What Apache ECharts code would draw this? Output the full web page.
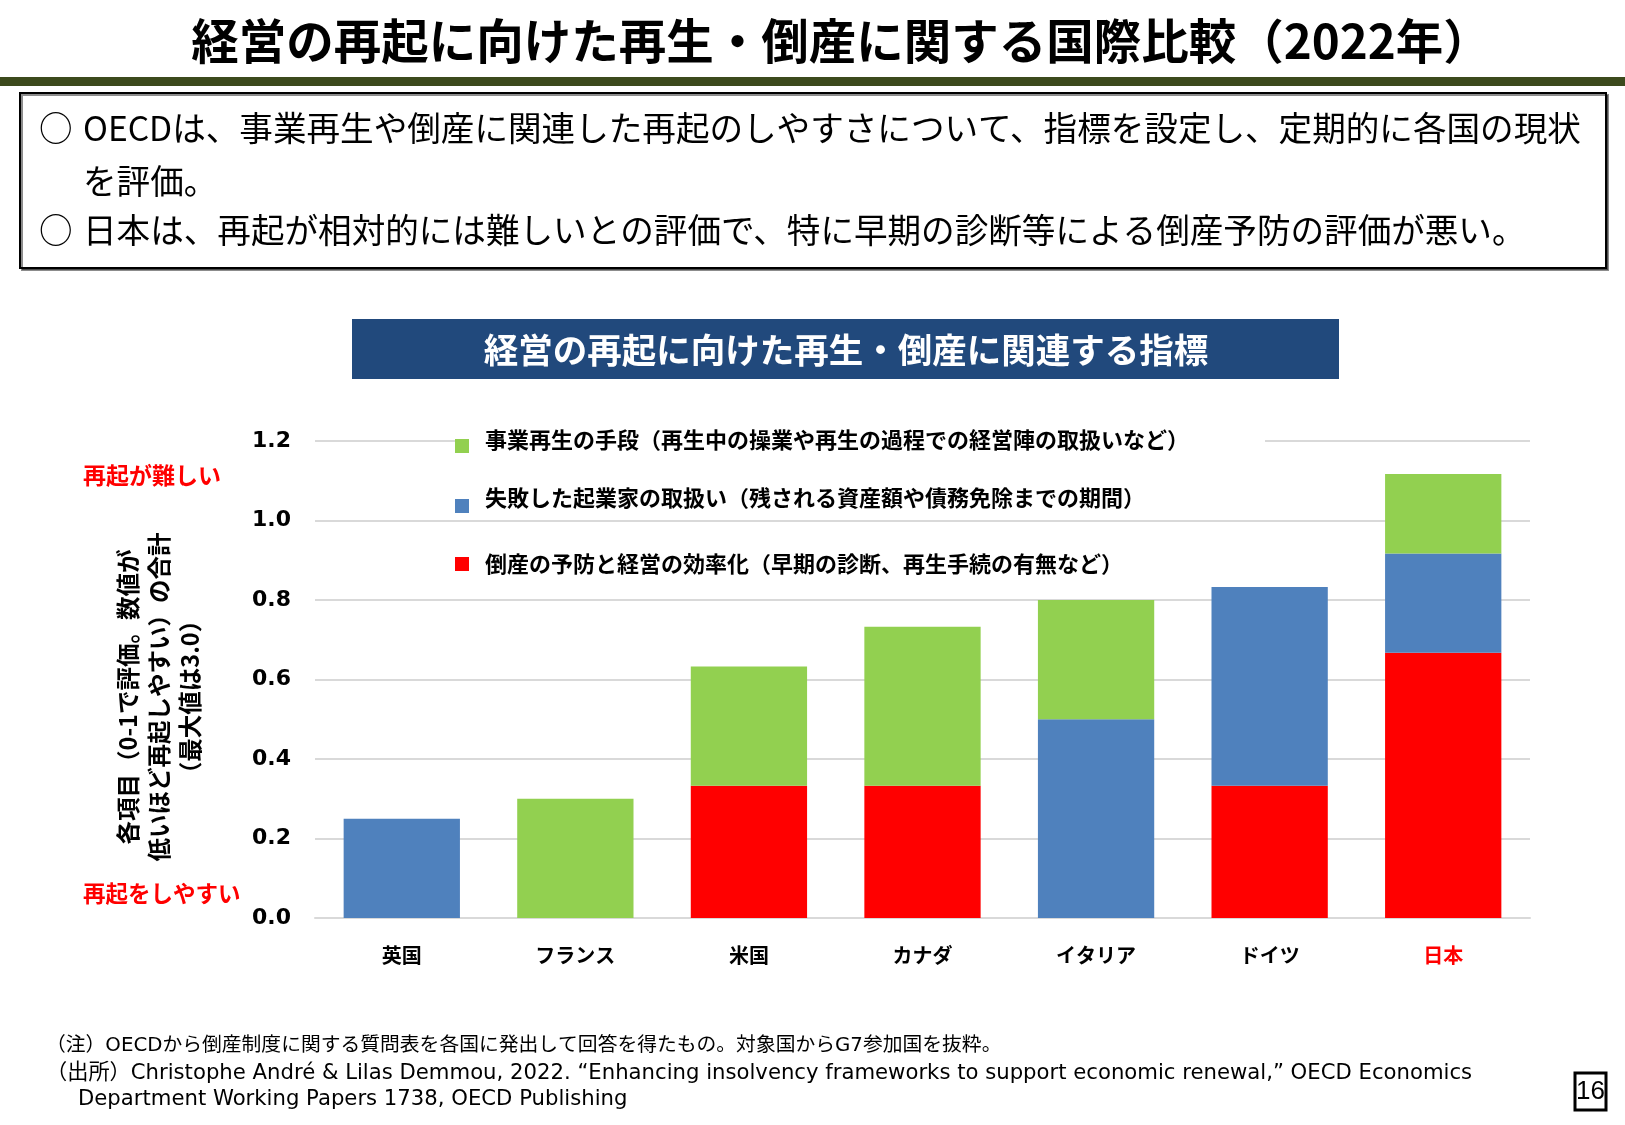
<!DOCTYPE html>
<html lang="ja">
<head>
<meta charset="utf-8">
<title>経営の再起に向けた再生・倒産に関する国際比較（2022年）</title>
<script src="https://cdn.jsdelivr.net/npm/echarts@6/dist/echarts.min.js"></script>
<style>
  html, body { margin: 0; padding: 0; background: #fff; }
  #main { width: 1625px; height: 1125px; }
</style>
</head>
<body>
<div id="main"></div>
<script>
// ============ データ ============
const countries = ['英国', 'フランス', '米国', 'カナダ', 'イタリア', 'ドイツ', '日本']
const seriesNames = [
  '事業再生の手段（再生中の操業や再生の過程での経営陣の取扱いなど）',
  '失敗した起業家の取扱い（残される資産額や債務免除までの期間）',
  '倒産の予防と経営の効率化（早期の診断、再生手続の有無など）'
]
// 各項目（0-1で評価）
const restructuringTools = [0, 0.3, 0.3, 0.4, 0.3, 0, 0.2]
const failedEntrepreneurs = [0.25, 0, 0, 0, 0.5, 0.5, 0.25]
const preventionStreamlining = [0, 0, 0.333, 0.333, 0, 0.333, 0.667]
const yTicks = { min: 0, max: 1.2, interval: 0.2 }

// ============ 色・フォント ============
const COLORS = {
  green: '#92d050',
  blue: '#4f81bd',
  red: '#ff0000',
  grid: '#d9d9d9',
  navy: '#21497c',
  olive: '#3c4a1d'
}
const JP = '"Noto Sans CJK JP", "Noto Sans", sans-serif'
const NOTE = '"DejaVu Sans", "Noto Sans CJK JP", sans-serif'

const chart = echarts.init(document.getElementById('main'))

/**
 * 凡例1項目分（元図は項目ごとに文字と四角の縦位置が少しずれている）
 * @param {string} name - 系列名
 * @param {number} top - 上端
 * @param {number} boxH - アイコン枠の高さ（四角は下端に寄せる）
 * @param {boolean} withBg - 白背景で目盛線を隠すか
 */
function legendItem(name, top, boxH, withBg) {
  const pad = boxH - 14
  return {
    data: [name],
    left: 455,
    top: top,
    orient: 'vertical',
    selectedMode: false,
    itemWidth: 14,
    itemHeight: boxH,
    icon: pad > 0 ? `path://M0,0L14,0L14,0ZM0,${pad}L14,${pad}L14,${boxH}L0,${boxH}Z` : 'rect',
    backgroundColor: withBg ? '#ffffff' : 'transparent',
    padding: [4, 76, 4, 0],
    textStyle: {
      fontFamily: JP,
      fontWeight: 'bold',
      fontSize: 22,
      color: '#000',
      padding: [0, 0, 0, 11]
    }
  }
}

const option = {
  animation: false,
  textStyle: { fontFamily: JP },
  grid: { left: 315, right: 95, top: 441, bottom: 207 },
  legend: [
    legendItem(seriesNames[0], 422, 27, true),
    legendItem(seriesNames[1], 478, 31, false),
    legendItem(seriesNames[2], 549, 14, false)
  ],
  xAxis: {
    type: 'category',
    data: countries.map(c => c === '日本' ? { value: c, textStyle: { color: COLORS.red } } : c),
    axisTick: { show: false },
    axisLine: { lineStyle: { color: COLORS.grid, width: 2 } },
    axisLabel: {
      color: '#000',
      fontFamily: JP,
      fontWeight: 'bold',
      fontSize: 20,
      margin: 27
    }
  },
  yAxis: {
    type: 'value',
    min: yTicks.min,
    max: yTicks.max,
    interval: yTicks.interval,
    axisLine: { show: false },
    axisTick: { show: false },
    splitLine: { lineStyle: { color: COLORS.grid, width: 2 } },
    axisLabel: {
      color: '#000',
      fontFamily: '"DejaVu Sans", Verdana, sans-serif',
      fontWeight: 'bold',
      fontSize: 22,
      margin: 24,
      formatter: v => v.toFixed(1)
    }
  },
  series: [
    {
      name: seriesNames[2],
      type: 'bar',
      stack: 'total',
      barCategoryGap: '33%',
      itemStyle: { color: COLORS.red },
      data: preventionStreamlining
    },
    {
      name: seriesNames[1],
      type: 'bar',
      stack: 'total',
      itemStyle: { color: COLORS.blue },
      data: failedEntrepreneurs
    },
    {
      name: seriesNames[0],
      type: 'bar',
      stack: 'total',
      itemStyle: { color: COLORS.green },
      data: restructuringTools
    }
  ],
  graphic: [
    // タイトル
    {
      type: 'text', x: 841, y: 41,
      style: {
        text: '経営の再起に向けた再生・倒産に関する国際比較（2022年）',
        font: 'bold 47.5px ' + JP, fill: '#000', align: 'center', verticalAlign: 'middle'
      }
    },
    { type: 'rect', shape: { x: 0, y: 77, width: 1625, height: 9 }, style: { fill: COLORS.olive } },
    // 説明ボックス
    {
      type: 'rect', shape: { x: 20, y: 93, width: 1586, height: 175 },
      style: { fill: '#fff', stroke: '#000', lineWidth: 2, shadowColor: 'rgba(0,0,0,0.45)', shadowOffsetX: 2, shadowOffsetY: 2 }
    },
    { type: 'text', x: 39, y: 128, style: { text: '○', font: '33.6px ' + JP, fill: '#000', verticalAlign: 'middle' } },
    { type: 'text', x: 83, y: 128, style: { text: 'OECDは、事業再生や倒産に関連した再起のしやすさについて、指標を設定し、定期的に各国の現状', font: '33.6px ' + JP, fill: '#000', verticalAlign: 'middle' } },
    { type: 'text', x: 83, y: 181, style: { text: 'を評価。', font: '33.6px ' + JP, fill: '#000', verticalAlign: 'middle' } },
    { type: 'text', x: 39, y: 230, style: { text: '○', font: '33.6px ' + JP, fill: '#000', verticalAlign: 'middle' } },
    { type: 'text', x: 83, y: 230, style: { text: '日本は、再起が相対的には難しいとの評価で、特に早期の診断等による倒産予防の評価が悪い。', font: '33.6px ' + JP, fill: '#000', verticalAlign: 'middle' } },
    // グラフタイトル
    { type: 'rect', shape: { x: 352, y: 319, width: 987, height: 60 }, style: { fill: COLORS.navy } },
    {
      type: 'text', x: 846, y: 350,
      style: { text: '経営の再起に向けた再生・倒産に関連する指標', font: 'bold 34.5px ' + JP, fill: '#fff', align: 'center', verticalAlign: 'middle' }
    },
    // 縦軸の説明
    {
      type: 'text', x: 159, y: 697, rotation: Math.PI / 2,
      style: {
        text: '各項目（0-1で評価。数値が\n低いほど再起しやすい）の合計\n（最大値は3.0）',
        font: 'bold 23.5px ' + JP, lineHeight: 31, fill: '#000', align: 'center', verticalAlign: 'middle'
      }
    },
    { type: 'text', x: 83, y: 475, style: { text: '再起が難しい', font: 'bold 23px ' + JP, fill: COLORS.red, verticalAlign: 'middle' } },
    { type: 'text', x: 83, y: 893, style: { text: '再起をしやすい', font: 'bold 22.5px ' + JP, fill: COLORS.red, verticalAlign: 'middle' } },
    // 注・出所
    { type: 'text', x: 46, y: 1046, style: { text: '（注）OECDから倒産制度に関する質問表を各国に発出して回答を得たもの。対象国からG7参加国を抜粋。', font: '19.8px ' + NOTE, fill: '#000', verticalAlign: 'middle' } },
    { type: 'text', x: 46, y: 1073, style: { text: '（出所）Christophe André & Lilas Demmou, 2022. “Enhancing insolvency frameworks to support economic renewal,” OECD Economics', font: '21.2px ' + NOTE, fill: '#000', verticalAlign: 'middle' } },
    { type: 'text', x: 78, y: 1099, style: { text: 'Department Working Papers 1738, OECD Publishing', font: '21.2px ' + NOTE, fill: '#000', verticalAlign: 'middle' } },
    // ページ番号
    { type: 'rect', shape: { x: 1575, y: 1073, width: 31, height: 37 }, style: { fill: '#fff', stroke: '#000', lineWidth: 3 } },
    { type: 'text', x: 1590.5, y: 1092, style: { text: '16', font: '26px "Liberation Sans", Arial, sans-serif', fill: '#000', align: 'center', verticalAlign: 'middle' } }
  ]
}

chart.setOption(option)
window.addEventListener('resize', () => chart.resize())
</script>
</body>
</html>
